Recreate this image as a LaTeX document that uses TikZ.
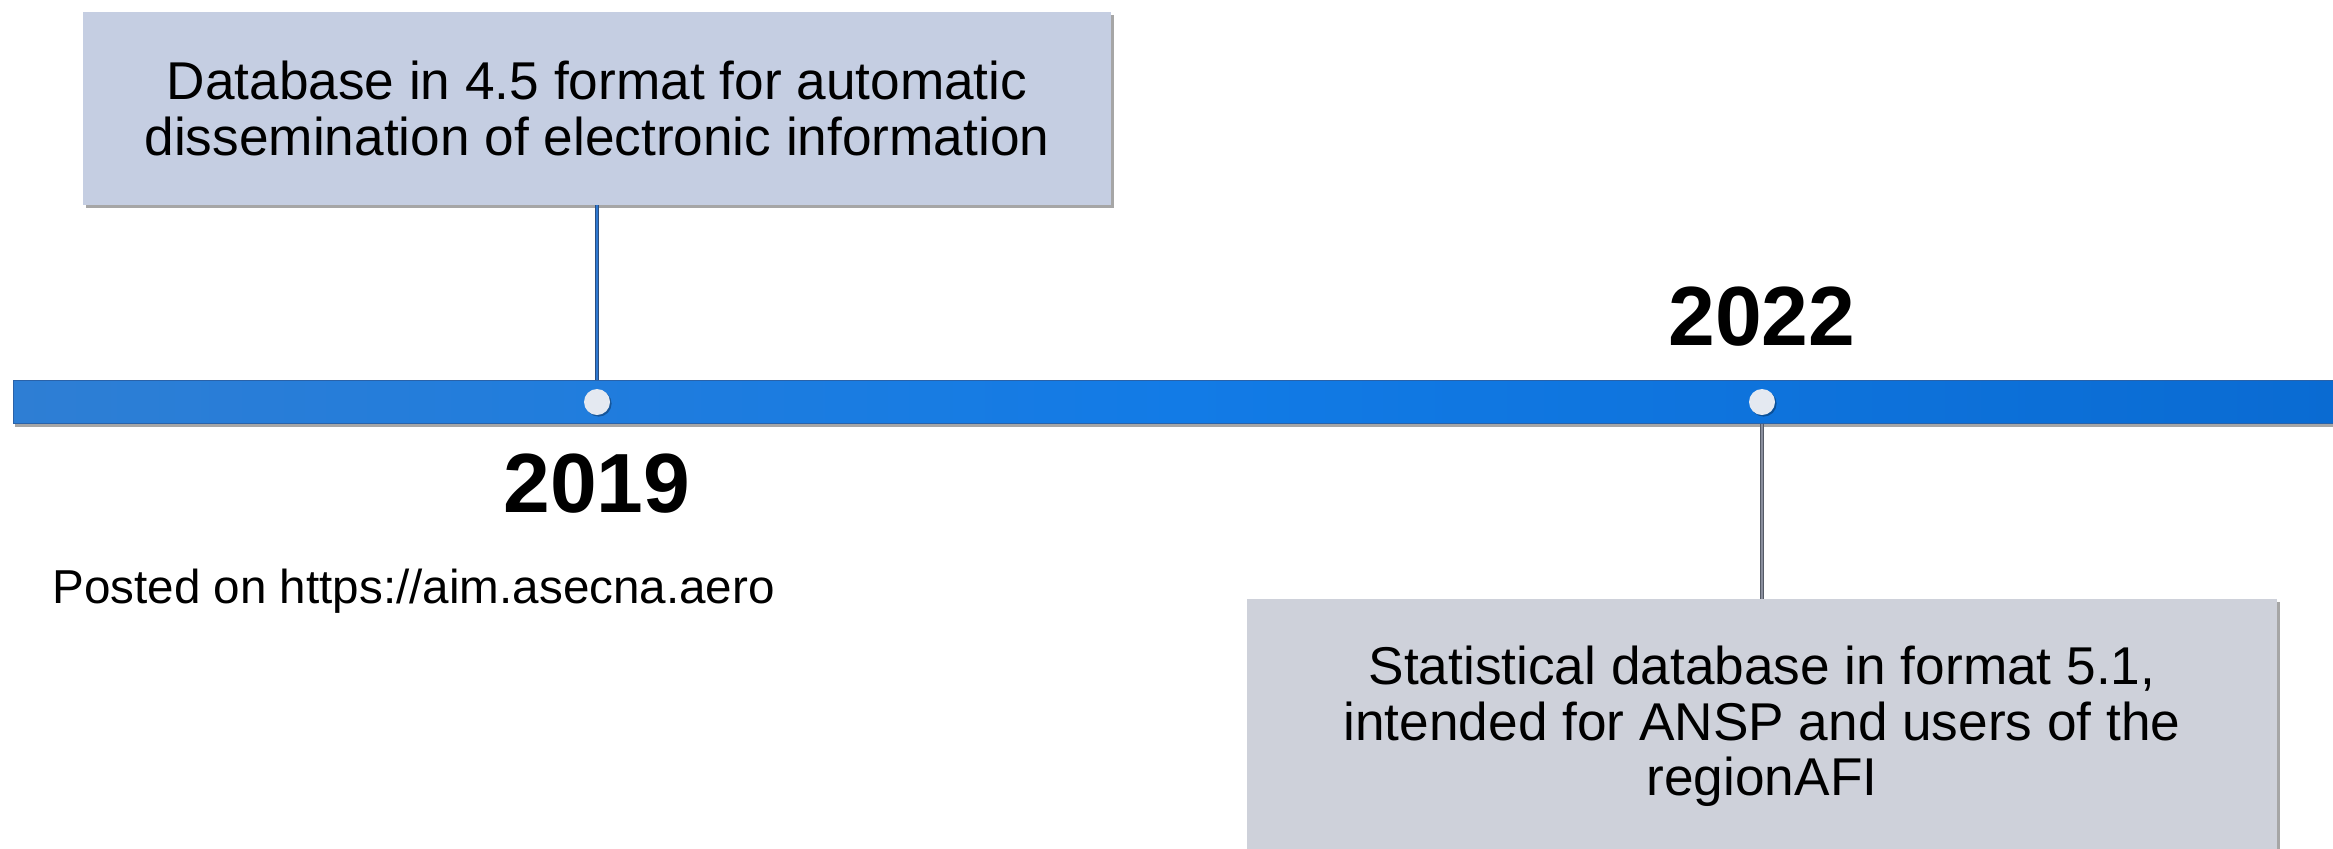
\documentclass[tikz,border=0pt]{standalone}
\usepackage{fontspec}
\setmainfont{Liberation Sans}
\usetikzlibrary{shadows}
\definecolor{boxblue}{HTML}{C5CEE2}
\definecolor{boxgray}{HTML}{CED1DA}
\definecolor{barleft}{HTML}{2E7ED4}
\definecolor{barmid}{HTML}{127BE6}
\definecolor{barright}{HTML}{0A6BD2}
\definecolor{baredge}{HTML}{2A62A8}
\definecolor{dotfill}{HTML}{E4E9F1}
\definecolor{connblue}{HTML}{2F78D0}
\definecolor{conndarkblue}{HTML}{2B4F80}
\definecolor{conngray}{HTML}{8A8F9E}
\definecolor{conndarkgray}{HTML}{555A66}
\tikzset{
  infobox/.style={rectangle, inner sep=0pt, align=center,
    font=\fontsize{26.6}{27.8}\selectfont,
    drop shadow={shadow xshift=1.5pt, shadow yshift=-1.5pt, opacity=0.35, fill=black}},
  timebar/.style={rectangle, inner sep=0pt, draw=baredge, line width=0.5pt,
    left color=barleft, right color=barright, middle color=barmid,
    minimum width=1166pt, minimum height=21.5pt,
    drop shadow={shadow xshift=0.8pt, shadow yshift=-1.8pt, opacity=0.35, fill=black}},
  tdot/.style={circle, inner sep=0pt, minimum size=13pt, fill=dotfill,
    drop shadow={shadow xshift=0.8pt, shadow yshift=-0.8pt, opacity=0.3, fill=black}},
  yearlabel/.style={inner sep=0pt, anchor=base, font=\bfseries\fontsize{42}{50}\selectfont},
  plainlabel/.style={inner sep=0pt, anchor=base west, font=\fontsize{23.8}{28}\selectfont},
  connblueline/.style={draw=conndarkblue, double=connblue, double distance=1pt, line width=0.5pt},
  conngrayline/.style={draw=conndarkgray, double=conngray, double distance=1pt, line width=0.5pt}
}
\begin{document}
\begin{tikzpicture}[x=0.5pt,y=-0.5pt]
\clip (0,0) rectangle (2333,848);
\fill[white] (0,0) rectangle (2333,848);
% boxes
\node[infobox, fill=boxblue, minimum width=514pt, minimum height=96.5pt] (topbox) at (597,108.5)
  {Database in 4.5 format for automatic\\dissemination of electronic information};
\node[infobox, fill=boxgray, minimum width=515pt, minimum height=127.5pt] (botbox) at (1762,726.5)
  {Statistical database in format 5.1,\\intended for ANSP and users of the\\regionAFI};
% bar
\node[timebar] (bar) at (1179,401.5) {};
% connectors
\draw[connblueline] (topbox.south) -- (topbox.south |- bar.north);
\draw[conngrayline] (botbox.north |- bar.south) -- (botbox.north);
% dots
\node[tdot] (d1) at (597,402) {};
\node[tdot] (d2) at (1762,402) {};
% labels
\node[yearlabel] (y2019) at (597,512) {2019};
\node[yearlabel] (y2022) at (1762,345) {2022};
\node[plainlabel] (posted) at (52,603) {Posted on https://aim.asecna.aero};
\end{tikzpicture}
\end{document}
